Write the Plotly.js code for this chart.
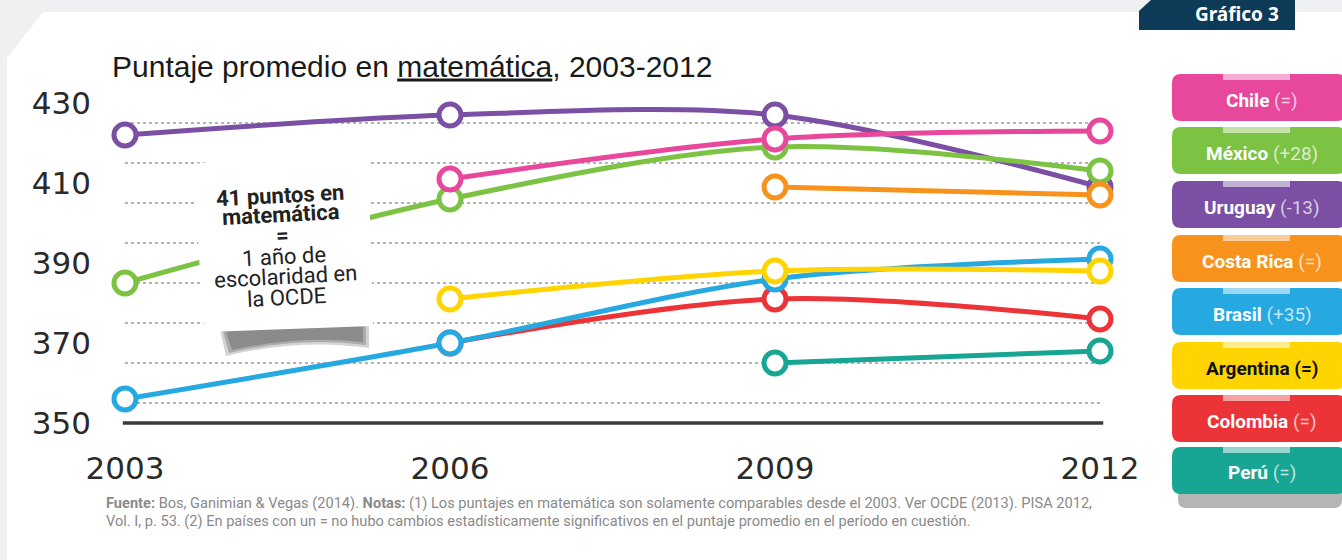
<!DOCTYPE html>
<html>
<head>
<meta charset="utf-8">
<script src="https://cdn.plot.ly/plotly-3.0.1.min.js"></script>
<style>html,body{margin:0;padding:0;background:#eef0f2;}#chart{width:1342px;height:560px;}</style>
</head>
<body>
<div id="chart"></div>
<script>
// ---- DATA ----
const years = [2003, 2006, 2009, 2012];
const yearLabels = ['2003', '2006', '2009', '2012'];
const chile     = [null, 411, 421, 423];
const mexico    = [385, 406, 419, 413];
const uruguay   = [422, 427, 427, 409];
const costaRica = [null, null, 409, 407];
const brasil    = [356, 370, 386, 391];
const argentina = [null, 381, 388, 388];
const colombia  = [null, 370, 381, 376];
const peru      = [null, null, 365, 368];
const yTicks = [350, 370, 390, 410, 430];
const gridVals = [355, 365, 375, 385, 395, 405, 415, 425];
const legendNames   = ['Chile', 'México', 'Uruguay', 'Costa Rica', 'Brasil', 'Argentina', 'Colombia', 'Perú'];
const legendChanges = ['(=)', '(+28)', '(-13)', '(=)', '(+35)', '(=)', '(=)', '(=)'];
const boxLines = ['41 puntos en', 'matemática', '=', '1 año de', 'escolaridad en', 'la OCDE'];
const titleText = 'Puntaje promedio en <u>matemática</u>, 2003-2012';
const footer1 = '<b>Fuente:</b> Bos, Ganimian & Vegas (2014). <b>Notas:</b> (1) Los puntajes en matemática son solamente comparables desde el 2003. Ver OCDE (2013). PISA 2012,';
const footer2 = 'Vol. I, p. 53. (2) En países con un = no hubo cambios estadísticamente significativos en el puntaje promedio en el período en cuestión.';

// ---- STYLE ----
const colors = {
  Chile: '#e8489b', 'México': '#7cc243', Uruguay: '#7b4fa4', 'Costa Rica': '#f7931d',
  Brasil: '#25a9e0', Argentina: '#ffd400', Colombia: '#ec3338', 'Perú': '#17a594'
};
const seriesMap = {
  Chile: chile, 'México': mexico, Uruguay: uruguay, 'Costa Rica': costaRica,
  Brasil: brasil, Argentina: argentina, Colombia: colombia, 'Perú': peru
};
const drawOrder = ['Uruguay', 'México', 'Chile', 'Costa Rica', 'Colombia', 'Brasil', 'Argentina', 'Perú'];

const W = 1342, H = 560, ML = 100, MR = 212, MT = 80, MB = 120;
const PW = W - ML - MR, PH = H - MT - MB;
const px = x => (x - ML) / PW;
const py = y => (H - MB - y) / PH;
function pathFrom(cmds) {
  return cmds.map(c => {
    if (c[0] === 'Z') return 'Z';
    let s = c[0] + px(c[1]) + ',' + py(c[2]);
    if (c.length > 3) s += ' ' + px(c[3]) + ',' + py(c[4]);
    return s;
  }).join(' ');
}
function roundRect(x0, y0, x1, y1, r) {
  return pathFrom([
    ['M', x0 + r, y0], ['L', x1 - r, y0], ['Q', x1, y0, x1, y0 + r], ['L', x1, y1 - r],
    ['Q', x1, y1, x1 - r, y1], ['L', x0 + r, y1], ['Q', x0, y1, x0, y1 - r],
    ['L', x0, y0 + r], ['Q', x0, y0, x0 + r, y0], ['Z']
  ]);
}

const traces = drawOrder.map(name => ({
  x: years, y: seriesMap[name], type: 'scatter', mode: 'lines+markers', name: name,
  connectgaps: false,
  line: {color: colors[name], width: 5, shape: 'spline', smoothing: 0.9},
  marker: {symbol: 'circle', size: 22, color: '#ffffff', line: {color: colors[name], width: 5}},
  hoverinfo: 'skip'
}));

const shapes = [];
shapes.push({type: 'path', xref: 'paper', yref: 'paper', layer: 'below',
  path: pathFrom([['M', 7, 58], ['L', 43, 12], ['L', 1342, 12], ['L', 1342, 560], ['L', 7, 560], ['Z']]),
  fillcolor: '#ffffff', line: {width: 0}});
gridVals.forEach(v => shapes.push({type: 'line', xref: 'x', yref: 'y', layer: 'below',
  x0: 2003, x1: 2012, y0: v, y1: v, line: {color: '#b3b3b3', width: 2, dash: '3px,3px'}}));
shapes.push({type: 'line', xref: 'x', yref: 'y', layer: 'below',
  x0: 2002.98, x1: 2012.03, y0: 350, y1: 350, line: {color: '#3a3a3a', width: 3.5}});
// sticker shadow (layered to look blurry)
[[0, 0.25], [3, 0.3], [6, 0.35]].forEach(([d, o]) => {
  shapes.push({type: 'path', xref: 'paper', yref: 'paper', layer: 'above',
    path: pathFrom([['M', 220 + d, 330 + d * 0.3], ['Q', 290, 314 + d, 369 - d, 318 + d * 0.3],
      ['L', 369 - d, 348 - d], ['Q', 300, 338 - d * 0.5, 226 + d, 356 - d], ['Z']]),
    fillcolor: 'rgba(80,80,80,' + o + ')', line: {width: 0}});
});
shapes.push({type: 'path', xref: 'paper', yref: 'paper', layer: 'above',
  path: pathFrom([['M', 193, 164], ['L', 322, 149], ['L', 368, 151], ['L', 373, 326], ['L', 204, 332], ['Z']]),
  fillcolor: '#ffffff', line: {width: 0}});
shapes.push({type: 'path', xref: 'paper', yref: 'paper', layer: 'above',
  path: pathFrom([['M', 1139, 30], ['L', 1139, 11], ['L', 1151, 0], ['L', 1295, 0], ['L', 1295, 30], ['Z']]),
  fillcolor: '#0d3a57', line: {width: 0}});
shapes.push({type: 'path', xref: 'paper', yref: 'paper', layer: 'above',
  path: roundRect(1178, 488, 1342, 508, 8), fillcolor: 'rgba(120,120,120,0.55)', line: {width: 0}});

const legendCenters = [100, 153, 207, 261, 314, 368, 421, 473];
const legendOrder = ['Chile', 'México', 'Uruguay', 'Costa Rica', 'Brasil', 'Argentina', 'Colombia', 'Perú'];
legendOrder.forEach((name, i) => {
  const cy = legendCenters[i];
  shapes.push({type: 'path', xref: 'paper', yref: 'paper', layer: 'above',
    path: roundRect(1172, cy - 26, 1346, cy + 21, 9), fillcolor: colors[name], line: {width: 0}});
});
legendOrder.forEach((name, i) => {
  const cy = legendCenters[i];
  shapes.push({type: 'rect', xref: 'paper', yref: 'paper', layer: 'above',
    x0: px(1223), x1: px(1290), y0: py(cy - 30), y1: py(cy - 20),
    fillcolor: 'rgba(255,255,255,0.55)', line: {width: 0}});
});

const annotations = [];
const boxY = [195, 214, 235, 256, 276, 297];
boxLines.forEach((t, i) => {
  const y = boxY[i];
  const bold = i < 3;
  annotations.push({xref: 'paper', yref: 'paper', x: px(283 + (y - 245) * 0.07), y: py(y),
    xanchor: 'center', yanchor: 'middle', showarrow: false, textangle: -3,
    text: bold ? '<b>' + t + '</b>' : t,
    font: {family: 'Liberation Sans Narrow, Roboto, sans-serif', size: 22, color: '#222222'}});
});
legendOrder.forEach((name, i) => {
  const dark = name === 'Argentina';
  const main = dark ? '#111111' : '#ffffff';
  const sub = dark ? '#111111' : 'rgba(255,255,255,0.72)';
  const subTxt = dark ? '<b>' + legendChanges[i] + '</b>' : legendChanges[i];
  annotations.push({xref: 'paper', yref: 'paper', x: px(1262), y: py(legendCenters[i]),
    xanchor: 'center', yanchor: 'middle', showarrow: false,
    text: '<b>' + legendNames[i] + '</b> <span style="color:' + sub + '">' + subTxt + '</span>',
    font: {family: 'Liberation Sans Narrow, Roboto, sans-serif', size: 19, color: main}});
});
annotations.push({xref: 'paper', yref: 'paper', x: px(1237), y: py(14), xanchor: 'center', yanchor: 'middle',
  showarrow: false, text: '<b>Gráfico 3</b>',
  font: {family: 'Noto Sans, Open Sans, sans-serif', size: 19, color: '#ffffff'}});
annotations.push({xref: 'paper', yref: 'paper', x: px(104), y: py(503), xanchor: 'left', yanchor: 'middle',
  showarrow: false, text: footer1,
  font: {family: 'Liberation Sans Narrow, Roboto, sans-serif', size: 14.6, color: '#8a8a8a'}});
annotations.push({xref: 'paper', yref: 'paper', x: px(104), y: py(521), xanchor: 'left', yanchor: 'middle',
  showarrow: false, text: footer2,
  font: {family: 'Liberation Sans Narrow, Roboto, sans-serif', size: 14.6, color: '#8a8a8a'}});

const layout = {
  width: W, height: H,
  margin: {l: ML, r: MR, t: MT, b: MB, pad: 0},
  paper_bgcolor: '#eef0f2', plot_bgcolor: 'rgba(0,0,0,0)',
  showlegend: false, hovermode: false,
  title: {text: titleText, xref: 'container', yref: 'container', x: 112 / W, y: 1 - 66 / H,
    xanchor: 'left', yanchor: 'middle',
    font: {family: 'Liberation Sans, Arial, sans-serif', size: 30, color: '#1a1a1a'}},
  xaxis: {range: [2003 - 25 / 108.33, 2012 + 30 / 108.33], tickvals: years, ticktext: yearLabels,
    showgrid: false, zeroline: false, showline: false, ticks: '', ticklabelstandoff: 7,
    tickfont: {family: 'DejaVu Sans, sans-serif', size: 31, color: '#2a2a2a'}, fixedrange: true},
  yaxis: {range: [345.75, 435.75], tickvals: yTicks, ticktext: yTicks.map(String),
    showgrid: false, zeroline: false, showline: false, ticks: '', ticklabelstandoff: 8,
    tickfont: {family: 'DejaVu Sans, sans-serif', size: 31, color: '#2a2a2a'}, fixedrange: true},
  shapes: shapes, annotations: annotations
};

Plotly.newPlot('chart', traces, layout, {displayModeBar: false, staticPlot: true});
</script>
</body>
</html>
